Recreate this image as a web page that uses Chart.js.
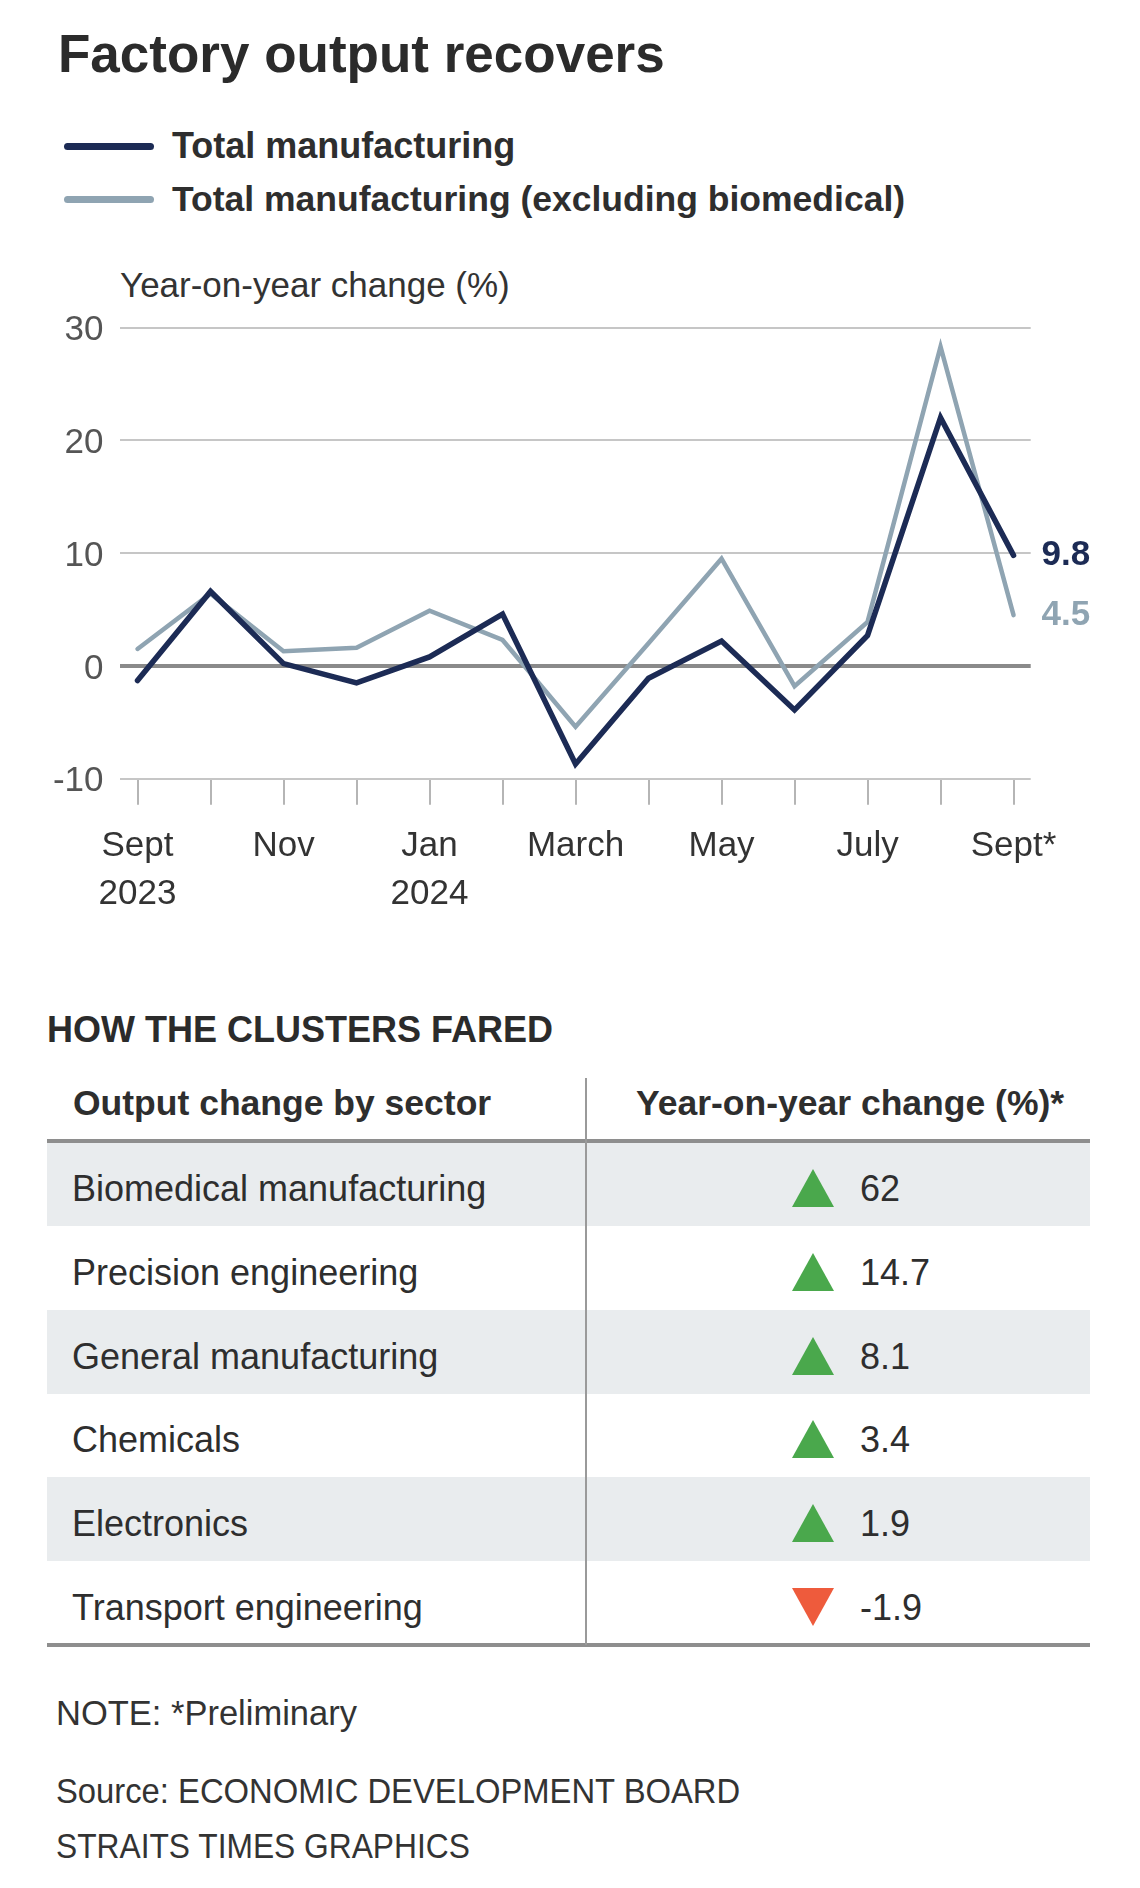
<!DOCTYPE html>
<html>
<head>
<meta charset="utf-8">
<script src="https://cdn.jsdelivr.net/npm/chart.js@4.4.1/dist/chart.umd.min.js"></script>
<style>
  body { margin: 0; background: #fff; }
  #page { position: relative; width: 1140px; height: 1888px; font-family: "Liberation Sans", Arial, sans-serif; color: #2e2e2e; }
  .t { position: absolute; line-height: 1; white-space: nowrap; }
  .b { font-weight: bold; }
  .key { position: absolute; left: 64px; width: 90px; height: 7px; border-radius: 4px; }
  #chartBox { position: absolute; left: 0; top: 300px; width: 1140px; height: 640px; }
  .row { position: absolute; left: 47px; width: 1043px; height: 84px; }
  .shade { background: #e9ecee; }
  .hline { position: absolute; left: 47px; width: 1043px; height: 4px; background: #8e8e8e; }
  .tri { position: absolute; width: 0; height: 0; border-left: 21px solid transparent; border-right: 21px solid transparent; }
  .up { border-bottom: 38px solid #4aa84c; }
  .down { border-top: 38px solid #ee5b3c; }
</style>
</head>
<body>
<div id="page">
  <div class="t b" style="left:58px; top:27px; font-size:53px; color:#2b2b2b;">Factory output recovers</div>

  <div class="key" style="top:143px; background:#1c2b55;"></div>
  <div class="t b" style="left:172px; top:128px; font-size:36px;">Total manufacturing</div>
  <div class="key" style="top:196px; background:#8fa4b2;"></div>
  <div class="t b" style="left:172px; top:181.5px; font-size:35.5px;">Total manufacturing (excluding biomedical)</div>

  <div class="t" style="left:120px; top:267px; font-size:35px; color:#333;">Year-on-year change (%)</div>

  <div id="chartBox"><canvas id="lineChart"></canvas></div>

  <div class="t b" style="left:47px; top:1012px; font-size:36px; color:#2b2b2b;">HOW THE CLUSTERS FARED</div>
  <div id="table"></div>

  <div class="t" style="left:56px; top:1696px; font-size:34.5px; color:#333;">NOTE: *Preliminary</div>
  <div class="t" style="left:56px; top:1774px; font-size:34.5px; color:#333; transform:scaleX(0.95); transform-origin:left center;">Source: ECONOMIC DEVELOPMENT BOARD</div>
  <div class="t" style="left:56px; top:1829px; font-size:34.5px; color:#333; transform:scaleX(0.92); transform-origin:left center;">STRAITS TIMES GRAPHICS</div>
</div>

<script>
// line chart data
var months = ['Sep 2023', 'Oct 2023', 'Nov 2023', 'Dec 2023', 'Jan 2024', 'Feb 2024', 'Mar 2024',
              'Apr 2024', 'May 2024', 'Jun 2024', 'Jul 2024', 'Aug 2024', 'Sep 2024'];
var tickLabels = [['Sept', '2023'], '', 'Nov', '', ['Jan', '2024'], '', 'March', '', 'May', '', 'July', '', 'Sept*'];
var totalMfg = [-1.3, 6.6, 0.2, -1.5, 0.8, 4.6, -8.7, -1.1, 2.2, -3.9, 2.7, 22.0, 9.8];
var totalExBio = [1.5, 6.4, 1.3, 1.6, 4.9, 2.3, -5.4, 2.0, 9.5, -1.8, 3.9, 28.3, 4.5];
var yTicks = [-10, 0, 10, 20, 30];

// table data
var sectors = ['Biomedical manufacturing', 'Precision engineering', 'General manufacturing',
               'Chemicals', 'Electronics', 'Transport engineering'];
var sectorChange = ['62', '14.7', '8.1', '3.4', '1.9', '-1.9'];

// build the table
var table = document.getElementById('table');
var html = '';
var top0 = 1142, rowH = 83.8;
sectors.forEach(function (name, i) {
    var y = top0 + i * rowH;
    var up = parseFloat(sectorChange[i]) >= 0;
    html += '<div class="row' + (i % 2 === 0 ? ' shade' : '') + '" style="top:' + y + 'px"></div>';
    html += '<div class="t" style="left:72px; top:' + (y + 29) + 'px; font-size:36px;">' + name + '</div>';
    html += '<div class="tri ' + (up ? 'up' : 'down') + '" style="left:792px; top:' + (y + 27) + 'px"></div>';
    html += '<div class="t" style="left:860px; top:' + (y + 29) + 'px; font-size:36px;">' + sectorChange[i] + '</div>';
});
html += '<div class="t b" style="left:73px; top:1085.5px; font-size:35.5px;">Output change by sector</div>';
html += '<div class="t b" style="left:636px; top:1085.5px; font-size:35.5px;">Year-on-year change (%)*</div>';
html += '<div class="hline" style="top:1139px"></div>';
html += '<div class="hline" style="top:1643px"></div>';
html += '<div style="position:absolute; left:585px; top:1078px; width:2px; height:567px; background:#9a9a9a;"></div>';
table.innerHTML = html;

Chart.defaults.font.family = '"Liberation Sans", Arial, sans-serif';

// value labels at the end of each line
var endLabels = {
    id: 'endLabels',
    afterDatasetsDraw: function (chart) {
        var ctx = chart.ctx;
        ctx.save();
        ctx.font = 'bold 35px "Liberation Sans", Arial, sans-serif';
        ctx.textBaseline = 'middle';
        ctx.textAlign = 'left';
        chart.data.datasets.forEach(function (ds, i) {
            var pts = chart.getDatasetMeta(i).data;
            var last = pts[pts.length - 1];
            ctx.fillStyle = ds.borderColor;
            ctx.fillText(ds.data[ds.data.length - 1].y.toFixed(1), last.x + 28, last.y);
        });
        ctx.restore();
    }
};

var ctx = document.getElementById('lineChart').getContext('2d');
var myChart = new Chart(ctx, {
    type: 'line',
    data: {
        labels: months,
        datasets: [{
            label: 'Total manufacturing',
            data: totalMfg.map(function (v, i) { return { x: i, y: v }; }),
            borderColor: '#1c2b55',
            borderWidth: 5.5,
            borderCapStyle: 'round',
            pointRadius: 0,
            tension: 0
        }, {
            label: 'Total manufacturing (excluding biomedical)',
            data: totalExBio.map(function (v, i) { return { x: i, y: v }; }),
            borderColor: '#8fa4b2',
            borderWidth: 4.5,
            borderCapStyle: 'round',
            pointRadius: 0,
            tension: 0
        }]
    },
    options: {
        responsive: true,
        maintainAspectRatio: false,
        animation: false,
        layout: { padding: { top: 27.5, right: 109.3, bottom: 0, left: 0 } },
        plugins: {
            legend: { display: false },
            tooltip: { enabled: false }
        },
        scales: {
            x: {
                type: 'linear',
                min: -0.24,
                max: months.length - 1 + 0.235,
                afterBuildTicks: function (scale) {
                    scale.ticks = months.map(function (m, i) { return { value: i }; });
                },
                afterFit: function (scale) {
                    scale.height = 161.3;
                    scale.paddingLeft = 0;
                    scale.paddingRight = 0;
                },
                border: { display: false },
                grid: { drawOnChartArea: false, drawTicks: true, tickLength: 26, color: '#b5b5b5', lineWidth: 2 },
                ticks: {
                    autoSkip: false,
                    maxRotation: 0,
                    minRotation: 0,
                    padding: 17,
                    color: '#333',
                    font: { size: 35, lineHeight: 1.383 },
                    callback: function (value) { return tickLabels[value]; }
                }
            },
            y: {
                min: yTicks[0],
                max: yTicks[yTicks.length - 1],
                afterBuildTicks: function (scale) {
                    scale.ticks = yTicks.map(function (v) { return { value: v }; });
                },
                afterFit: function (scale) {
                    scale.width = 120;
                    scale.paddingTop = 0;
                    scale.paddingBottom = 0;
                },
                border: { display: false },
                grid: {
                    drawTicks: false,
                    color: function (c) { return c.tick && c.tick.value === 0 ? '#8a8a8a' : '#c6c6c6'; },
                    lineWidth: function (c) { return c.tick && c.tick.value === 0 ? 4 : 2; }
                },
                ticks: { padding: 16.5, labelOffset: 3, color: '#555', font: { size: 35 } }
            }
        }
    },
    plugins: [endLabels]
});
</script>
</body>
</html>
